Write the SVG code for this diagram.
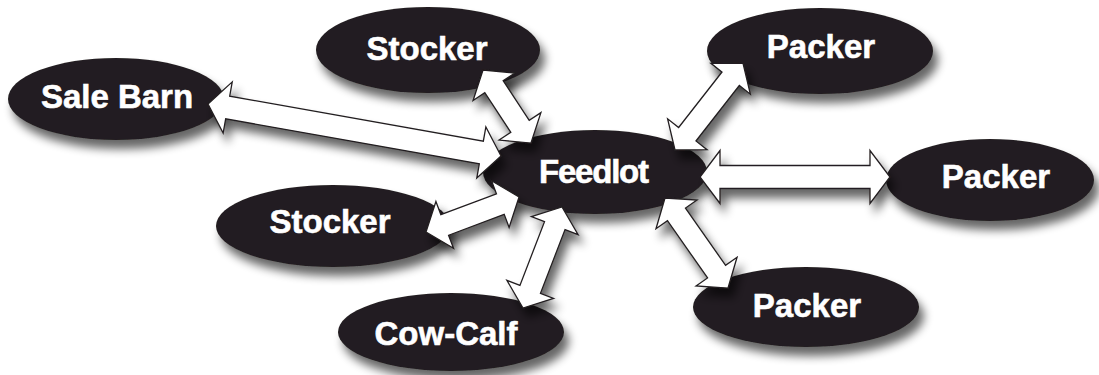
<svg xmlns="http://www.w3.org/2000/svg" width="1099" height="375" viewBox="0 0 1099 375">
<style>
.node ellipse{fill:#231f20;}
.node text{fill:#ffffff;stroke:#ffffff;stroke-width:0.6;font-family:"Liberation Sans",Arial,Helvetica,sans-serif;font-weight:bold;font-size:33px;text-anchor:middle;}
.arrow polygon{fill:#ffffff;stroke:#231f20;stroke-width:1.3;stroke-linejoin:miter;}
</style>
<defs>
<filter id="sh" x="-30%" y="-30%" width="170%" height="190%">
<feGaussianBlur in="SourceAlpha" stdDeviation="5"/>
<feOffset dx="5" dy="9"/>
<feComponentTransfer><feFuncA type="linear" slope="0.6"/></feComponentTransfer>
<feMerge><feMergeNode/><feMergeNode in="SourceGraphic"/></feMerge>
</filter>
</defs>
<rect width="1099" height="375" fill="#ffffff"/>
<g id="sale-barn" class="node"><ellipse cx="116" cy="99" rx="108" ry="41" filter="url(#sh)"/><text x="117" y="108">Sale Barn</text></g>
<g id="stocker-top" class="node"><ellipse cx="428" cy="50" rx="112" ry="43" filter="url(#sh)"/><text x="427" y="60">Stocker</text></g>
<g id="packer-top" class="node"><ellipse cx="820" cy="51" rx="113" ry="43" filter="url(#sh)"/><text x="821" y="58">Packer</text></g>
<g id="feedlot" class="node"><ellipse cx="595" cy="172" rx="112" ry="42" filter="url(#sh)"/><text x="594" y="183" textLength="110" lengthAdjust="spacing">Feedlot</text></g>
<g id="packer-right" class="node"><ellipse cx="990" cy="180" rx="104" ry="41" filter="url(#sh)"/><text x="996" y="188">Packer</text></g>
<g id="stocker-bottom" class="node"><ellipse cx="333" cy="226" rx="117" ry="41" filter="url(#sh)"/><text x="330" y="233">Stocker</text></g>
<g id="cow-calf" class="node"><ellipse cx="451" cy="332" rx="113" ry="39" filter="url(#sh)"/><text x="446" y="345">Cow-Calf</text></g>
<g id="packer-bottom" class="node"><ellipse cx="806" cy="307" rx="113" ry="40" filter="url(#sh)"/><text x="807" y="317">Packer</text></g>
<g id="connectors" class="arrow">
<g filter="url(#sh)"><polygon transform="translate(208,104) rotate(10.06)" points="0,0 20,-26 20,-11.5 277.6,-11.5 277.6,-26 297.6,0 277.6,26 277.6,11.5 20,11.5 20,26"/></g>
<g filter="url(#sh)"><polygon transform="translate(483,70) rotate(56.7)" points="0,0 20,-25 20,-11 67.4,-11 67.4,-25 87.4,0 67.4,25 67.4,11 20,11 20,25"/></g>
<g filter="url(#sh)"><polygon transform="translate(675,150) rotate(-52)" points="0,0 20,-25 20,-11 90.4,-11 90.4,-25 110.4,0 90.4,25 90.4,11 20,11 20,25"/></g>
<g filter="url(#sh)"><polygon transform="translate(700,177) rotate(0)" points="0,0 20,-26.5 20,-11.5 170,-11.5 170,-26.5 190,0 170,26.5 170,11.5 20,11.5 20,26.5"/></g>
<g filter="url(#sh)"><polygon transform="translate(426,232) rotate(-20.6)" points="0,0 20,-25 20,-11 79.4,-11 79.4,-25 99.4,0 79.4,25 79.4,11 20,11 20,25"/></g>
<g filter="url(#sh)"><polygon transform="translate(523,308) rotate(-68.9)" points="0,0 20,-25 20,-11 88.3,-11 88.3,-25 108.3,0 88.3,25 88.3,11 20,11 20,25"/></g>
<g filter="url(#sh)"><polygon transform="translate(665,198) rotate(55)" points="0,0 20,-25 20,-11 89.9,-11 89.9,-25 109.9,0 89.9,25 89.9,11 20,11 20,25"/></g>
</g>
</svg>
